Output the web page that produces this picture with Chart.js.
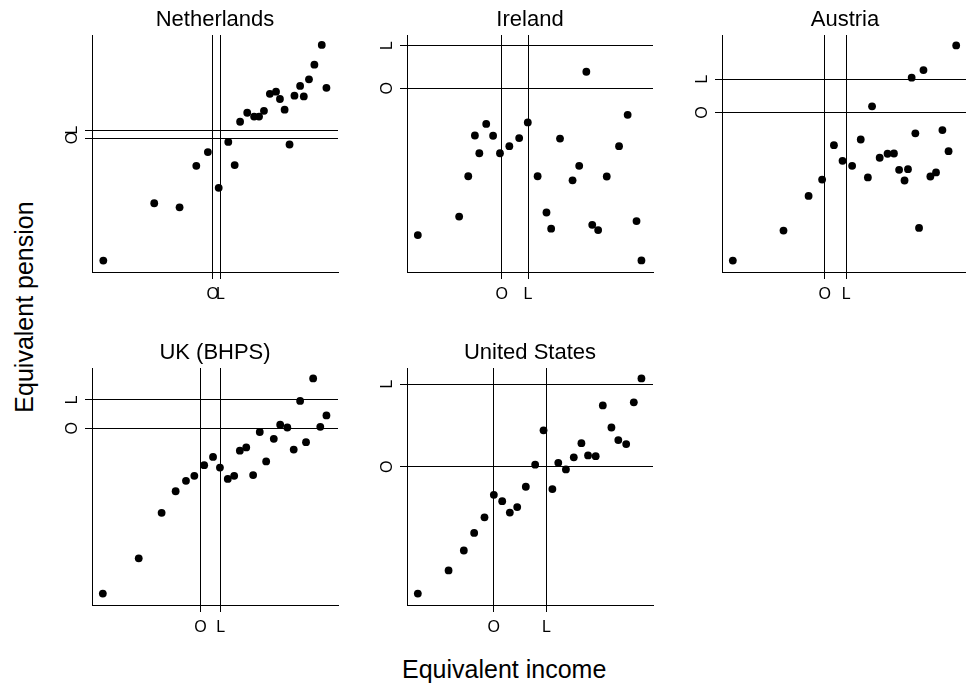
<!DOCTYPE html>
<html>
<head>
<meta charset="utf-8">
<script src="https://cdn.jsdelivr.net/npm/chart.js@4.4.1/dist/chart.umd.min.js"></script>
<style>
  body { margin: 0; background: #fff; width: 966px; height: 687px; position: relative; overflow: hidden;
         font-family: "Liberation Sans", Arial, sans-serif; color: #000; }
  canvas.panel { position: absolute; }
  .ytitle { position: absolute; left: 24px; top: 307px; font-size: 25px; line-height: 1; white-space: nowrap;
            transform: translate(-50%, -50%) rotate(-90deg); }
  .xtitle { position: absolute; left: 402px; top: 657px; font-size: 25px; line-height: 1; white-space: nowrap; }
</style>
</head>
<body>
<div class="ytitle">Equivalent pension</div>
<div class="xtitle">Equivalent income</div>

<script>
// reference lines on each axis are marked O and L
const refLabels = ['O', 'L'];

// Netherlands
const nlIncome  = [4.6, 25.3, 35.6, 42.4, 47.1, 51.5, 55.4, 58.0, 60.2, 63.1, 65.9, 67.9, 69.9, 72.3, 74.8, 76.4, 78.3, 80.3, 82.3, 84.6, 86.1, 88.2, 90.4, 93.4, 95.3];
const nlPension = [4.8, 29.0, 27.3, 44.8, 50.6, 35.5, 54.9, 45.1, 63.4, 67.2, 65.6, 65.6, 68.0, 75.2, 76.1, 73.0, 68.5, 53.8, 74.4, 78.5, 74.1, 81.3, 87.5, 95.8, 77.7];
const nlIncomeRefs  = [49.1, 52.2];
const nlPensionRefs = [56.5, 59.9];

// Ireland
const ieIncome  = [4.4, 21.2, 24.9, 27.6, 29.4, 32.2, 35.0, 37.8, 41.6, 45.6, 49.1, 53.1, 56.7, 58.6, 62.2, 67.3, 70.0, 72.9, 75.3, 77.7, 81.2, 86.2, 89.7, 93.3, 95.3];
const iePension = [15.6, 23.4, 40.4, 57.6, 50.1, 62.5, 57.5, 50.1, 53.1, 56.5, 63.1, 40.4, 25.1, 18.3, 56.3, 38.7, 44.8, 84.5, 19.9, 17.7, 40.3, 53.1, 66.3, 21.5, 4.9];
const ieIncomeRefs  = [38.5, 49.2];
const iePensionRefs = [77.5, 95.6];

// Austria
const atIncome  = [4.4, 25.0, 35.2, 40.7, 45.5, 49.0, 52.9, 56.4, 59.3, 61.0, 64.1, 67.3, 69.9, 72.0, 74.2, 75.6, 77.1, 78.6, 80.1, 81.9, 84.7, 87.0, 89.6, 92.1, 95.2];
const atPension = [4.8, 17.5, 32.1, 39.0, 53.5, 46.9, 44.8, 55.9, 39.9, 69.9, 48.2, 49.9, 50.0, 43.1, 38.6, 43.4, 82.0, 58.5, 18.6, 85.2, 40.3, 42.0, 59.9, 51.0, 95.6];
const atIncomeRefs  = [41.8, 50.5];
const atPensionRefs = [67.3, 81.4];

// UK (BHPS)
const ukIncome  = [4.4, 19.0, 28.3, 34.0, 38.2, 41.6, 45.6, 49.2, 52.0, 55.2, 57.8, 60.1, 62.7, 65.5, 68.2, 70.8, 73.9, 76.5, 79.4, 82.0, 84.6, 87.0, 89.9, 92.8, 95.3];
const ukPension = [4.8, 19.7, 38.9, 48.0, 52.4, 54.5, 59.0, 62.5, 58.0, 53.2, 54.5, 65.1, 66.5, 54.8, 73.0, 60.6, 70.1, 76.1, 74.9, 65.6, 86.1, 68.7, 95.6, 75.2, 80.0];
const ukIncomeRefs  = [44.1, 52.3];
const ukPensionRefs = [74.6, 86.6];

// United States
const usIncome  = [4.4, 16.9, 23.1, 27.3, 31.5, 35.3, 38.7, 41.8, 44.8, 48.3, 52.1, 55.5, 59.1, 61.5, 64.6, 67.8, 70.9, 73.6, 76.7, 79.6, 83.1, 85.9, 89.1, 92.2, 95.3];
const usPension = [4.8, 14.6, 23.0, 30.4, 37.0, 46.5, 43.8, 39.0, 41.3, 49.9, 59.2, 73.7, 48.9, 60.0, 57.2, 62.3, 68.3, 63.1, 62.8, 84.2, 74.9, 69.6, 67.9, 85.5, 95.6];
const usIncomeRefs  = [35.3, 56.7];
const usPensionRefs = [58.3, 93.2];

const panels = [
    { name: 'Netherlands',   x: nlIncome, y: nlPension, xRefs: nlIncomeRefs, yRefs: nlPensionRefs, left: 92,  top: 35 },
    { name: 'Ireland',       x: ieIncome, y: iePension, xRefs: ieIncomeRefs, yRefs: iePensionRefs, left: 407, top: 35 },
    { name: 'Austria',       x: atIncome, y: atPension, xRefs: atIncomeRefs, yRefs: atPensionRefs, left: 722, top: 35 },
    { name: 'UK (BHPS)',     x: ukIncome, y: ukPension, xRefs: ukIncomeRefs, yRefs: ukPensionRefs, left: 92,  top: 368 },
    { name: 'United States', x: usIncome, y: usPension, xRefs: usIncomeRefs, yRefs: usPensionRefs, left: 407, top: 368 }
];

const FONT = '"Liberation Sans", Arial, sans-serif';
const PLOT_W = 249, PLOT_H = 237;
const Y_AXIS_W = 40, X_AXIS_H = 40, TITLE_H = 28;

function refAxis(refs, extra) {
    return Object.assign({
        type: 'linear',
        min: 0,
        max: 100,
        afterBuildTicks: function(axis) {
            axis.ticks = refs.map(v => ({ value: v }));
        },
        ticks: {
            autoSkip: false,
            color: '#000',
            font: { family: FONT, size: 16 },
            callback: function(value) {
                return refLabels[refs.indexOf(value)];
            }
        },
        grid: { color: '#000', lineWidth: 1, tickLength: 7, drawTicks: true },
        border: { display: true, color: '#000', width: 1 }
    }, extra);
}

function drawPanel(p) {
    const canvas = document.createElement('canvas');
    canvas.className = 'panel';
    canvas.width = Y_AXIS_W + PLOT_W + 1;
    canvas.height = TITLE_H + PLOT_H + X_AXIS_H;
    canvas.style.left = (p.left - Y_AXIS_W) + 'px';
    canvas.style.top = (p.top - TITLE_H) + 'px';
    document.body.appendChild(canvas);

    const xAxis = refAxis(p.xRefs, {
        afterFit: function(scale) { scale.height = X_AXIS_H; }
    });
    xAxis.ticks.maxRotation = 0;
    xAxis.ticks.minRotation = 0;
    xAxis.ticks.padding = 6;

    const yAxis = refAxis(p.yRefs, {
        afterFit: function(scale) { scale.width = Y_AXIS_W; }
    });
    yAxis.ticks.minRotation = 90;
    yAxis.ticks.maxRotation = 90;
    yAxis.ticks.crossAlign = 'center';
    yAxis.ticks.padding = 6;

    new Chart(canvas, {
        type: 'scatter',
        data: {
            datasets: [{
                data: p.x.map((v, i) => ({ x: v, y: p.y[i] })),
                backgroundColor: '#000',
                borderWidth: 0,
                pointRadius: 3.9
            }]
        },
        options: {
            responsive: false,
            animation: false,
            layout: { padding: { right: 1 } },
            plugins: {
                legend: { display: false },
                tooltip: { enabled: false },
                title: {
                    display: true,
                    fullSize: false,   // centre over the plot, not the canvas
                    text: p.name,
                    color: '#000',
                    font: { family: FONT, size: 22, weight: 'normal' },
                    padding: { top: 0, bottom: 1.6 }
                }
            },
            scales: { x: xAxis, y: yAxis }
        }
    });
}

panels.forEach(drawPanel);
</script>
</body>
</html>
